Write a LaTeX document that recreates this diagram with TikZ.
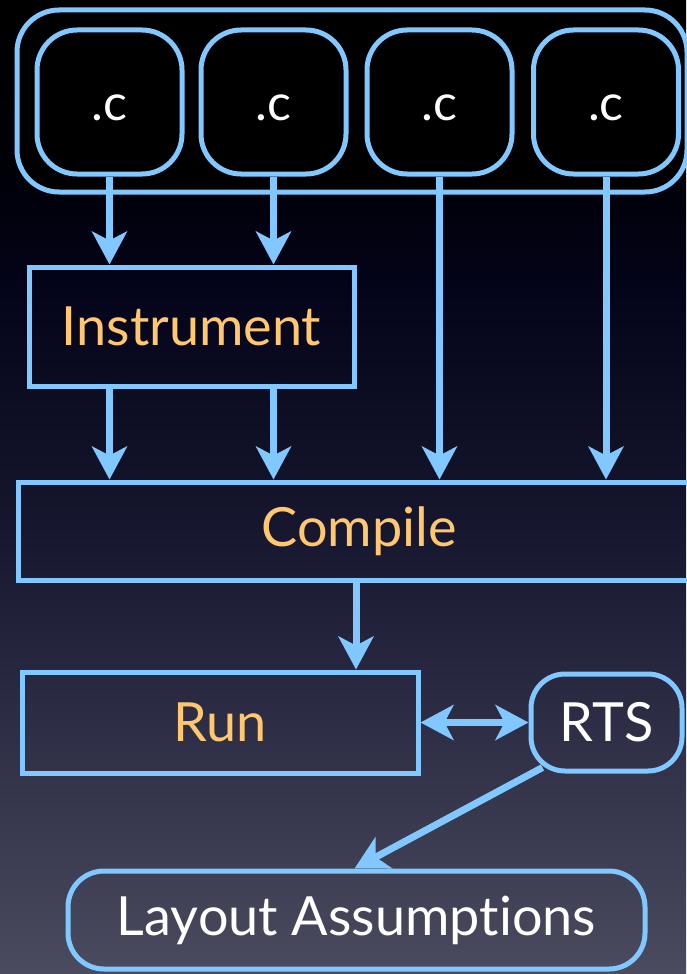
\documentclass[tikz,border=0pt]{standalone}
\usepackage{fontspec}
\setmainfont{Lato}[Ligatures=NoCommon]
\usetikzlibrary{arrows.meta,calc}

\definecolor{edgeblue}{HTML}{80C8FF}
\definecolor{labelorange}{HTML}{FFC870}
\definecolor{bgA}{HTML}{4A4B5E}
\definecolor{bgB}{HTML}{2E2E46}
\definecolor{bgC}{HTML}{16162E}
\definecolor{bgD}{HTML}{04041A}
\definecolor{bgE}{HTML}{000008}

% slide background, dark at the top and lighter towards the bottom
% (a shaded path is fitted to the middle 25bp--75bp band of the shading)
\pgfdeclareverticalshading{slidebg}{100bp}{%
  color(0bp)=(bgA); color(25bp)=(bgA); color(37.5bp)=(bgB); color(48bp)=(bgC);
  color(60bp)=(bgD); color(66bp)=(bgE); color(75bp)=(black); color(100bp)=(black)}

% file-name label, set a little below the box centre
\newcommand{\srclabel}[1]{\raisebox{-6pt}[\height][\depth]{#1}}

\begin{document}
\begin{tikzpicture}[x=1pt,y=-1pt,
  frame/.style={draw=edgeblue, line width=5pt, inner sep=0pt},
  srcbox/.style={frame, fill=black, rounded corners=40pt,
    minimum width=145pt, minimum height=144pt,
    text=white, font=\fontsize{50pt}{54pt}\selectfont},
  stagebox/.style={frame, text=labelorange, font=\fontsize{54pt}{58pt}\selectfont},
  pillbox/.style={frame, rounded corners=34pt, text=white,
    font=\fontsize{54pt}{58pt}\selectfont},
  flow/.style={draw=edgeblue, line width=7pt,
    -{Stealth[length=33pt,width=35pt,inset=9pt]}},
  bothflow/.style={draw=edgeblue, line width=7pt,
    {Stealth[length=33pt,width=35pt,inset=9pt]}-{Stealth[length=33pt,width=35pt,inset=9pt]}}
]
\useasboundingbox (0,0) rectangle (686,974);
\shade[shading=slidebg] (0,0) rectangle (686,974);

% group of source files
\node[frame, fill=black, rounded corners=42pt,
  minimum width=670pt, minimum height=182pt] (group) at (352,101) {};
\node[srcbox] (c1) at (109.5,102) {\srclabel{.c}};
\node[srcbox] (c2) at (273.5,102) {\srclabel{.c}};
\node[srcbox] (c3) at (439.5,102) {\srclabel{.c}};
\node[srcbox] (c4) at (606,102) {\srclabel{.c}};

% pipeline stages
\node[stagebox, minimum width=325pt, minimum height=119pt] (instr) at (191.5,326.5) {Instrument};
\node[stagebox, minimum width=682pt, minimum height=98pt] (comp) at (359,531) {Compile};
\node[stagebox, minimum width=396pt, minimum height=101pt] (run) at (220,722.5) {Run};
\node[pillbox, minimum width=151pt, minimum height=97pt] (rts) at (606.5,722.5) {RTS};
\node[pillbox, rounded corners=36pt, minimum width=577pt, minimum height=98pt] (layout) at (356.5,920) {Layout Assumptions};

\coordinate (drop) at (356,0);

% connectors
\draw[flow] (c1.south) -- (c1.south |- instr.north);
\draw[flow] (c2.south) -- (c2.south |- instr.north);
\draw[flow] (instr.south -| c1.south) -- (comp.north -| c1.south);
\draw[flow] (instr.south -| c2.south) -- (comp.north -| c2.south);
\draw[flow] (c3.south) -- (c3.south |- comp.north);
\draw[flow] (c4.south) -- (c4.south |- comp.north);
\draw[flow] (comp.south -| drop) -- (run.north -| drop);
\draw[bothflow] (run.east) -- (rts.west);
\draw[flow] ($(rts.south west)+(14,-6)$) -- ($(layout.north)+(-2,0)$);
\end{tikzpicture}
\end{document}
